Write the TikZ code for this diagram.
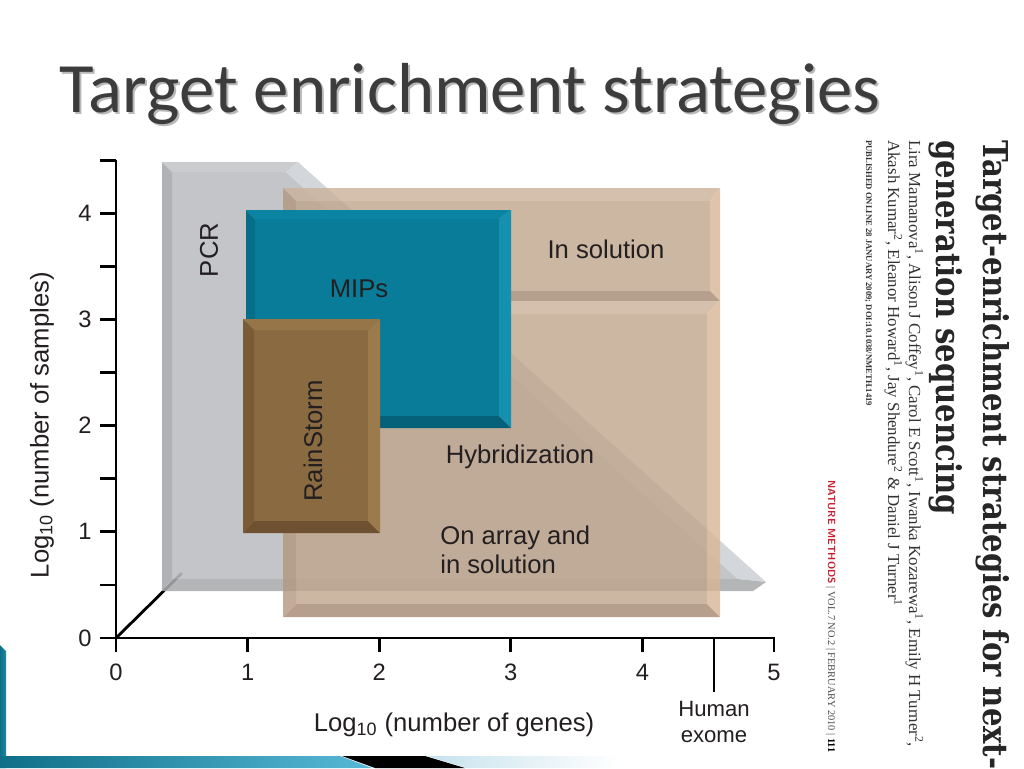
\documentclass[tikz,border=0pt]{standalone}
\usepackage{fontspec}
\setmainfont{Liberation Sans}
\newfontfamily\titlefont{Carlito}
\newfontfamily\slabfont[FakeStretch=0.85]{DejaVu Serif}
\newfontfamily\paperfont{Liberation Serif}
\usetikzlibrary{positioning,calc}

\definecolor{tealface}{HTML}{087C99}
\definecolor{tealtop}{HTML}{0A84A2}
\definecolor{tealleft}{HTML}{066E89}
\definecolor{tealright}{HTML}{1590AE}
\definecolor{tealbot}{HTML}{05617A}
\definecolor{brownface}{HTML}{8A6A40}
\definecolor{browntop}{HTML}{967549}
\definecolor{brownleft}{HTML}{7A5B35}
\definecolor{brownright}{HTML}{9B7A4C}
\definecolor{brownbot}{HTML}{6D5130}
\definecolor{tanface}{HTML}{C0A58D}
\definecolor{tantop}{HTML}{CBB19A}
\definecolor{tanleft}{HTML}{B3977F}
\definecolor{tanright}{HTML}{D8B595}
\definecolor{tanbot}{HTML}{A68872}
\definecolor{pcrface}{HTML}{BCBEC1}
\definecolor{pcrtop}{HTML}{C3C5C8}
\definecolor{pcrleft}{HTML}{A6A8AB}
\definecolor{pcrdiag}{HTML}{CDD1D5}
\definecolor{pcrbot}{HTML}{A9ABAE}
\definecolor{inkgray}{HTML}{231F20}
\definecolor{titlegray}{HTML}{3C3C3C}
\definecolor{natred}{HTML}{C8202F}
\definecolor{barteal}{HTML}{0F6F88}
\definecolor{barlight}{HTML}{58B9D7}
\definecolor{barpale}{HTML}{C6E2EE}

% beveled box: colour prefix, x1, y1, x2, y2, left/top bevel, right/bottom bevel
\newcommand{\bevbox}[7]{%
  \fill[#1face] (#2+#6,#3+#6) rectangle (#4-#7,#5-#7);
  \fill[#1top] (#2,#3) -- (#4,#3) -- (#4-#7,#3+#6) -- (#2+#6,#3+#6) -- cycle;
  \fill[#1left] (#2,#3) -- (#2+#6,#3+#6) -- (#2+#6,#5-#7) -- (#2,#5) -- cycle;
  \fill[#1right] (#4,#3) -- (#4,#5) -- (#4-#7,#5-#7) -- (#4-#7,#3+#6) -- cycle;
  \fill[#1bot] (#2,#5) -- (#2+#6,#5-#7) -- (#4-#7,#5-#7) -- (#4,#5) -- cycle;
}

\begin{document}
\begin{tikzpicture}[x=0.02cm,y=-0.02cm,
    lbl/.style={text=inkgray,inner sep=0pt,font=\fontsize{14.6}{16}\selectfont},
    num/.style={text=inkgray,inner sep=0pt,font=\fontsize{13.5}{15}\selectfont},
    axis/.style={line width=1.6pt,black},
    paper/.style={rotate=-90,anchor=base west,inner sep=0pt}]
    \fill[white] (0,0) rectangle (1024,768);
    \useasboundingbox (0,0) rectangle (1024,768);

    % title
    \node[anchor=base,text=gray!55,font=\titlefont\fontsize{40.3}{44}\selectfont] (ttlshadow) at (472,114) {Target enrichment strategies};
    \node[anchor=base,text=titlegray,font=\titlefont\fontsize{40.3}{44}\selectfont] (ttl) at (470,112) {Target enrichment strategies};

    % depth line
    \draw[line width=1.6pt] (116,638) -- (182,573);

    % PCR prism
    \begin{scope}[transparency group,opacity=0.88]
      \fill[pcrface] (172,172) -- (286,172) -- (738,579) -- (172,579) -- cycle;
      \fill[pcrtop] (162,162) -- (298,162) -- (286,172) -- (172,172) -- cycle;
      \fill[pcrleft] (162,162) -- (172,172) -- (172,579) -- (162,591) -- cycle;
      \fill[pcrdiag] (298,162) -- (766,582) -- (738,579) -- (286,172) -- cycle;
      \fill[pcrbot] (162,591) -- (172,579) -- (738,579) -- (766,582) -- (753,591) -- cycle;
    \end{scope}

    % hybridization / in solution
    \begin{scope}[transparency group,opacity=0.8]
      \bevbox{tan}{283}{188}{720}{301}{13}{10}
      \bevbox{tan}{283}{301}{720}{617}{13}{13}
    \end{scope}

    % MIPs and RainStorm
    \bevbox{teal}{246}{210}{511}{428}{9}{12}
    \bevbox{brown}{243}{319}{380}{533}{11}{12}

    \node[lbl,rotate=90] (pcr) at (209,250) {PCR};
    \node[lbl] (mips) at (359,289) {MIPs};
    \node[lbl,rotate=90] (rain) at (313,441) {RainStorm};
    \node[lbl] (insol) at (606,249) {In solution};
    \node[lbl] (hyb) at (520,457) {Hybridization};
    \node[lbl,align=left,anchor=base west] (array) at (440,573) {On array and\\in solution};

    % y axis
    \draw[axis] (116,638) -- (116,160);
    \foreach \k in {0,...,9}
        \draw[axis] (100,638-53.1*\k) -- (116,638-53.1*\k);
    \foreach \k in {0,...,4}
        \node[num] (ylab\k) at (85,638-106.2*\k) {\k};
    \node[lbl,rotate=90] (ytitle) at (42,425) {Log\textsubscript{10} (number of samples)};

    % x axis
    \draw[axis] (100,638) -- (775,638);
    \foreach \k in {0,...,5}
        \draw[axis] (116+131.6*\k,638) -- (116+131.6*\k,652);
    \foreach \k in {0,...,5}
        \node[num] (xlab\k) at (116+131.6*\k,672) {\k};
    \node[lbl] (xtitle) at (454,725) {Log\textsubscript{10} (number of genes)};
    \draw[axis] (714,638) -- (714,692);
    \node[num,align=center,font=\fontsize{12.6}{15}\selectfont] (exome) at (714,722) {Human\\exome};

    % paper header
    \node[paper,text=black!85,font=\slabfont\bfseries\fontsize{19.5}{20}\selectfont] (ptitle1) at (983,140) {Target-enrichment strategies for next-};
    \node[paper,text=black!85,font=\slabfont\bfseries\fontsize{19.5}{20}\selectfont] (ptitle2) at (936,140) {generation sequencing};
    \node[paper,text=black!80,font=\paperfont\fontsize{9.6}{10}\selectfont] (auth1) at (909,140)
        {Lira Mamanova\textsuperscript{1}, Alison J Coffey\textsuperscript{1}, Carol E Scott\textsuperscript{1}, Iwanka Kozarewa\textsuperscript{1}, Emily H Turner\textsuperscript{2},};
    \node[paper,text=black!80,font=\paperfont\fontsize{9.6}{10}\selectfont] (auth2) at (888,140)
        {Akash Kumar\textsuperscript{2}, Eleanor Howard\textsuperscript{1}, Jay Shendure\textsuperscript{2} \& Daniel J Turner\textsuperscript{1}};
    \node[paper,text=black!80,font=\paperfont\bfseries\fontsize{4.9}{5}\selectfont] (pub) at (866,140)
        {PUBLISHED ONLINE 28 JANUARY 2009; DOI:10.1038/NMETH.1419};
    \node[paper,text=black!70,font=\paperfont\fontsize{5.9}{7}\selectfont] (journal) at (828,480)
        {{\sffamily\bfseries\color{natred}NATURE METHODS} | VOL.7 NO.2 | FEBRUARY 2010 | {\bfseries\color{black}111}};

    % slide decoration
    \shade[left color=barteal,right color=barteal!70!barlight] (0,645) -- (6,651) -- (6,768) -- (0,768) -- cycle;
    \shade[left color=barteal,right color=barlight] (0,756) -- (340,756) -- (372,768) -- (0,768) -- cycle;
    \fill[black] (342,756) -- (425,756) -- (465,768) -- (375,768) -- cycle;
    \shade[left color=barpale,right color=white] (427,756) -- (620,756) -- (620,768) -- (467,768) -- cycle;
\end{tikzpicture}
\end{document}
